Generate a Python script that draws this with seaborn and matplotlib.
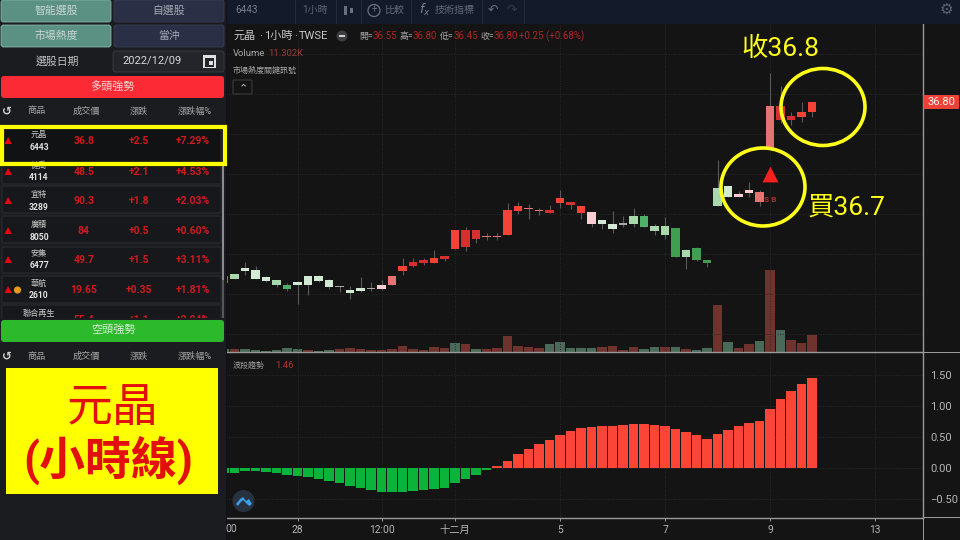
import matplotlib
matplotlib.use("Agg")
import matplotlib.pyplot as plt
from matplotlib.patches import Rectangle, FancyBboxPatch, Ellipse, Circle, Polygon
import numpy as np
import pandas as pd
import seaborn as sns

sns.set_theme(style="dark")
plt.rcParams['font.family'] = ['Roboto', 'Noto Sans CJK TC', 'DejaVu Sans']
plt.rcParams['axes.unicode_minus'] = False

# ---------- data ----------
body_top = [32.46,32.51,32.66,32.61,32.42,32.36,32.24,32.30,32.46,32.46,32.36,32.20,32.10,32.15,32.16,32.24,32.46,32.70,32.80,
            32.87,32.90,32.96,33.60,33.60,33.60,33.45,33.46,34.10,34.21,34.16,34.11,34.10,34.41,34.31,34.22,34.05,33.86,33.76,
            33.77,33.95,33.95,33.70,33.70,33.65,33.10,33.15,32.86,34.66,34.72,34.50,34.60,34.55,36.71,36.71,36.46,36.56,36.81]
body_bot = [32.28,32.38,32.58,32.38,32.34,32.23,32.13,32.23,32.23,32.34,32.18,32.18,32.03,32.08,32.13,32.13,32.23,32.58,32.72,
            32.78,32.78,32.89,33.13,33.18,33.39,33.43,33.43,33.49,34.08,34.13,34.09,34.03,34.29,34.24,34.03,33.75,33.75,33.63,
            33.74,33.75,33.68,33.58,33.49,32.94,32.94,32.85,32.78,34.21,34.44,34.44,34.54,34.30,35.63,36.35,36.35,36.44,36.56]
high = [32.46,32.51,32.80,32.71,32.46,32.36,32.28,32.33,32.46,32.48,32.38,32.20,32.21,32.42,32.30,32.36,32.46,32.90,32.90,
        32.90,33.11,32.96,33.60,33.69,33.60,33.54,33.53,34.28,34.30,34.26,34.16,34.23,34.61,34.31,34.22,34.05,33.86,34.09,
        33.97,34.15,34.00,33.75,33.92,33.65,33.13,33.19,32.86,35.36,34.72,34.59,34.82,34.61,37.53,37.21,36.57,36.80,36.81]
low = [32.28,32.38,32.48,32.38,32.32,32.19,32.08,31.76,31.98,32.32,32.13,32.07,31.89,32.06,32.09,32.11,32.23,32.48,32.68,
       32.73,32.78,32.83,33.13,33.09,33.29,33.36,33.36,33.49,34.00,33.89,33.99,34.03,34.15,34.13,33.89,33.69,33.63,33.53,
       33.67,33.69,33.67,33.48,33.39,32.93,32.64,32.83,32.68,34.21,34.44,34.44,34.44,34.21,35.63,36.28,36.23,36.30,36.44]
candle_shade = list("DBAAABCAAAAEAAEFGHIIHIHIIGGHHGGIHIHFAAEBCBBDBDDBAFFGGIIHH")
volume = [2.0,2.0,2.0,1.55,0.67,1.1,2.4,2.0,1.1,0.45,1.3,1.8,2.7,2.2,1.3,1.55,2.2,3.8,2.0,1.55,3.1,2.7,6.0,5.1,2.0,2.2,2.9,
          10.9,4.2,3.3,2.4,5.1,6.4,2.4,2.9,2.9,3.3,4.0,1.3,3.3,1.8,3.1,3.1,3.3,2.0,1.55,2.7,31.3,6.7,2.7,5.1,7.5,54.3,14.4,8.0,6.2,11.3]
volume_dir = list("gr" "gggggg" "r" "gg" "rrrrrrrrrrr" "g" "r" "g" "rrrrrr" "ggggg" "rrrr" "gg" "r" "g" "r" "gg" "r" "g" "rr" "g" "r" "g" "rrr")
osc = [-0.08,-0.07,-0.05,-0.05,-0.06,-0.07,-0.10,-0.12,-0.145,-0.17,-0.21,-0.24,-0.29,-0.32,-0.355,-0.375,-0.39,-0.375,-0.365,
       -0.35,-0.33,-0.31,-0.23,-0.17,-0.10,-0.03,0.03,0.12,0.23,0.31,0.39,0.45,0.53,0.60,0.645,0.665,0.68,0.69,0.705,0.715,
       0.715,0.70,0.69,0.635,0.585,0.53,0.47,0.56,0.62,0.68,0.73,0.76,0.95,1.11,1.24,1.355,1.46]
price_ticks = [31, 32, 33, 34, 35, 36, 37, 38]
osc_ticks = [-0.5, 0, 0.5, 1.0, 1.5]
time_pos = [7, 15, 22, 32, 42, 52, 62]
time_labels = ["28", "12:00", "十二月", "5", "7", "9", "13"]
buy_bar = 52
buy_price = 35.0

rows_name = ["元晶", "健喬", "宜特", "廣積", "安集", "華航", "聯合再生"]
rows_code = ["6443", "4114", "3289", "8050", "6477", "2610", ""]
rows_last = ["36.8", "48.5", "90.3", "84", "49.7", "19.65", "55.4"]
rows_chg = ["+2.5", "+2.1", "+1.8", "+0.5", "+1.5", "+0.35", "+1.1"]
rows_pct = ["+7.29%", "+4.53%", "+2.03%", "+0.60%", "+3.11%", "+1.81%", "+2.04%"]
table_head = ["商品", "成交價", "漲跌", "漲跌幅%"]

# ---------- layout ----------
W, H = 960, 540
BG = "#141414"
GRID = "#2a2a2a"
AXC = "#9a9a9a"
fig = plt.figure(figsize=(9.6, 5.4), dpi=100, facecolor=BG)

def axes_px(l, t, r, b, **kw):
    return fig.add_axes([l/W, 1-b/H, (r-l)/W, (b-t)/H], **kw)

L, R = 226, 923
MT, MB, OB = 24, 352, 517.7
bar_px, x0_px = 10.5, 224.0
xlim = ((L-x0_px)/bar_px, (R-x0_px)/bar_px)
idx = np.arange(len(osc))

ax = axes_px(L, MT, R, MB)
ax_o = axes_px(L, MB, R, OB)
for a in (ax, ax_o):
    a.set_facecolor(BG)
    for s in a.spines.values():
        s.set_visible(False)
    a.spines['right'].set_visible(True); a.spines['right'].set_color(AXC); a.spines['right'].set_linewidth(1)
    a.spines['bottom'].set_visible(True); a.spines['bottom'].set_color(AXC); a.spines['bottom'].set_linewidth(1)
    a.set_axisbelow(True)
    a.yaxis.tick_right()
    a.tick_params(axis='y', length=0, pad=5, labelsize=8, labelcolor="#b5b5b5", right=False)
    a.tick_params(axis='x', length=2.5, color=AXC, pad=2.5, labelsize=7.4, labelcolor="#b5b5b5", width=0.7, bottom=True)

# volume
ax_v = ax.twinx()
ax_v.set_zorder(1)
ax.set_zorder(2)
ax.patch.set_visible(False)
vdf = pd.DataFrame({"i": idx, "v": volume, "d": volume_dir})
sns.barplot(data=vdf, x="i", y="v", hue="d", hue_order=["r", "g"], palette={"r": "#6e332d", "g": "#4a6a59"},
            native_scale=True, dodge=False, width=0.88, saturation=1, legend=False, linewidth=0, edgecolor="none", ax=ax_v)
ax_v.set_xlim(*xlim)
ax_v.set_ylim(0, (MB-MT)*0.665)
ax_v.set_axis_off()

# candles
palette = {"A": "#d2ead4", "B": "#a8d8ab", "C": "#4fb069", "D": "#3f9e4f", "E": "#a8a8a8",
           "F": "#ffccd3", "G": "#e57373", "H": "#f44336", "I": "#d5302f"}
cols = [palette[c] for c in candle_shade]
ax.vlines(idx, low, high, color="#5a5a5a", lw=0.8, zorder=2)
ax.bar(idx, np.array(body_top)-np.array(body_bot), bottom=body_bot, width=0.8, color=cols, linewidth=0, edgecolor="none", zorder=3)
ax.scatter([buy_bar], [buy_price], marker="^", s=130, color="#f5211f", zorder=4, linewidths=0)
ax.text(buy_bar+0.05, 34.37, "S B", color="#a23535", fontsize=6, fontweight="bold", ha="center", va="center", zorder=4)
ax.set_xlim(*xlim)
ax.set_ylim(34-(MB-214.3)/40, 34+(214.3-MT)/40)
ax.set_yticks(price_ticks, [f"{v:.2f}" for v in price_ticks])
ax.set_xticks(time_pos, [""]*len(time_pos))
ax.tick_params(axis='x', length=0)
ax.grid(True, color=GRID, lw=0.7, ls=(0, (1, 1.6)))
ax.set_xlabel(""); ax.set_ylabel("")

# oscillator
odf = pd.DataFrame({"i": idx, "v": osc, "s": ["up" if v >= 0 else "dn" for v in osc]})
sns.barplot(data=odf, x="i", y="v", hue="s", hue_order=["up", "dn"], palette={"up": "#fb4637", "dn": "#0cb33b"},
            native_scale=True, dodge=False, width=0.93, saturation=1, legend=False, linewidth=0, edgecolor="none", ax=ax_o)
ax_o.set_xlim(*xlim)
ax_o.set_ylim((468.3-OB)/62, (468.3-MB)/62)
ax_o.set_yticks(osc_ticks, [f"{v:.2f}".replace("-", "−") for v in osc_ticks])
ax_o.set_xticks(time_pos, time_labels)
ax_o.grid(True, color=GRID, lw=0.7, ls=(0, (1, 1.6)))
ax_o.set_xlabel(""); ax_o.set_ylabel("")

# ---------- overlay in screen pixels ----------
ui = fig.add_axes([0, 0, 1, 1], zorder=10)
ui.set_xlim(0, W); ui.set_ylim(H, 0); ui.set_axis_off(); ui.patch.set_visible(False)

def T(x, y, s, size=8, color="#b4b4b4", ha="center", weight="normal", z=6, **kw):
    return ui.text(x, y, s, fontsize=size, color=color, ha=ha, va="center", fontweight=weight, zorder=z, **kw)
def box(x0, y0, x1, y1, color, rad=2.5, ec="none", lw=0, z=1):
    ui.add_patch(FancyBboxPatch((x0+rad, y0+rad), x1-x0-2*rad, y1-y0-2*rad,
                                boxstyle=f"round,pad={rad},rounding_size={rad}", fc=color, ec=ec, lw=lw, zorder=z))
def rect(x0, y0, x1, y1, color, z=1):
    ui.add_patch(Rectangle((x0, y0), x1-x0, y1-y0, fc=color, ec="none", zorder=z))

# axis lines running on to the picture edges
rect(922.5, 517, 923.5, 540, AXC, z=2)
rect(923, 351.5, 960, 352.5, AXC, z=2)
rect(923, 517.2, 960, 518.2, AXC, z=2)

# top toolbar
rect(226, 0, 960, 24, "#131a29")
for x in [295, 336, 361, 411, 482, 524]:
    rect(x-0.5, 0, x+0.5, 24, "#232a3a", z=2)
T(247, 10, "6443", 7.2, "#767c88")
T(315, 10, "1小時", 7.2, "#5f6570")
rect(344, 6, 347, 15, "#6a707c", z=3); rect(350, 8, 353, 13, "#6a707c", z=3)
ui.add_patch(Circle((374, 10.5), 6, fc="none", ec="#6a707c", lw=0.9, zorder=3))
T(374, 10, "+", 7, "#6a707c")
T(394, 10, "比較", 7.2, "#646a76")
T(425, 10, "$f_x$", 9, "#7a808c")
T(455, 10, "技術指標", 7.2, "#646a76")
T(493, 10, "↶", 9, "#6a707c")
T(512, 10, "↷", 9, "#353b48")
T(946, 10, "⚙", 11, "#5b6270")

# chart legend lines
for x, s in [(233, "元晶"), (259, "·"), (264, "1小時"), (294, "·"), (299, "TWSE")]:
    T(x, 36, s, 8, "#c6c6c6", ha="left")
ui.add_patch(Circle((342, 36), 5.5, fc="#3e3e42", ec="none", zorder=3)); rect(339, 35.3, 345, 36.7, "#d0d0d0", z=4)
RED_D = "#b32424"
for x, k, v in [(359, "開=", "36.55"), (399, "高=", "36.80"), (440, "低=", "36.45"), (480, "收=", "36.80")]:
    T(x, 36, k, 6.4, "#a8a8a8", ha="left")
    T(x+14, 36, v, 7, RED_D, ha="left")
T(519, 36, "+0.25 (+0.68%)", 7, RED_D, ha="left")
T(233, 53, "Volume", 6.8, "#a8a8a8", ha="left")
T(268, 53, "11.302K", 6.8, "#9a3c36", ha="left")
T(233, 70, "市場熱度關鍵訊號", 5.8, "#a8a8a8", ha="left")
box(233, 80, 252, 94, BG, rad=1, ec="#3a3a3a", lw=0.8, z=3)
T(243, 88, "⌃", 8, "#c8c8c8")
T(233, 365, "波段趨勢", 5.8, "#9a9a9a", ha="left")
T(275, 365, "1.46", 6.8, "#b5352e", ha="left")
T(231, 529, "00", 7.4, "#b5b5b5")

# last price tag
box(923.5, 95, 959, 109, "#ee4238", rad=1, z=3)
T(941.5, 102, "36.80", 8, "#f4f4f4")

# logo
ui.add_patch(Circle((243.5, 501), 11, fc="#28323f", ec="none", zorder=3))
ui.add_patch(Polygon([(236, 504), (240, 499), (243, 497), (246, 501), (249, 499), (252, 504), (249, 506), (246, 503),
                      (243, 500), (240, 503), (238, 506)], fc="#3ba0ea", ec="none", zorder=4))

# sidebar
rect(0, 0, 225.5, H, "#1b1c20")
rect(225.5, 0, 226.5, H, "#0e1118", z=2)
box(1, 0, 111, 22, "#5b9183", ec="#85b1a6", lw=0.6)
box(114, 0, 224, 22, "#2a2f45", ec="#3a3f55", lw=0.6)
box(1, 25, 111, 47, "#5b9183", ec="#85b1a6", lw=0.6)
box(114, 25, 224, 47, "#2a2f45", ec="#3a3f55", lw=0.6)
T(56, 10.5, "智能選股", 7.8, "#c9d6d2")
T(169, 10.5, "自選股", 7.8, "#a5a8b2")
T(56, 35.5, "市場熱度", 7.8, "#c9d6d2")
T(169, 35.5, "當沖", 7.8, "#a5a8b2")
T(57, 61, "選股日期", 7.8, "#c2c2c2")
box(113, 51, 224, 72, "#23252b", ec="#3b3d44", lw=0.6)
T(152, 61, "2022/12/09", 8, "#d8d8d8")
rect(203, 55, 216, 68, "#e0e0e0", z=3); rect(205, 58, 214, 66.5, "#23252b", z=4); rect(209, 61, 213, 65, "#e0e0e0", z=5)
box(1, 76, 224, 98, "#fb2a35", rad=3)
T(113, 86, "多頭強勢", 8, "#f2d7d7")
heads_x = [37, 86, 139, 195]
for hy in (111, 356):
    for x, h in zip(heads_x, table_head):
        T(x, hy, h, 6.6, "#a6a6a6")
    T(7, hy, "↺", 8.5, "#d0d0d0", weight="bold")

row_top = [127, 164, 186, 216, 247, 276, 305]
row_bot = [162, 184, 213, 243, 273, 303, 340]
row_mid = [141, 172, 201, 231, 260, 290, 320]
VAL = "#cf1b1f"
for i, (t, b, m) in enumerate(zip(row_top, row_bot, row_mid)):
    box(2, t, 221, b, "#111214" if i == 0 else "#17181b", rad=1, ec="#2c2d31", lw=0.7, z=2)
    if i < 6:
        ui.add_patch(Polygon([(8, m-4), (12, m+3), (4.5, m+3)], fc="#e3060c", ec="none", zorder=3))
    T(39, m-7 if i < 6 else 313, rows_name[i], 5.9, "#c8c8c8", z=3)
    if rows_code[i]:
        T(39, m+6, rows_code[i], 6.2, "#e0e0e0", weight="bold", z=3)
    T(84, m, rows_last[i], 7.5, VAL, weight="bold", z=3)
    T(139, m, rows_chg[i], 7.5, VAL, weight="bold", z=3)
    T(193, m, rows_pct[i], 7.5, VAL, weight="bold", z=3)
ui.add_patch(Circle((17.5, 290), 3.6, fc="#e59a1e", ec="none", zorder=3))
rect(0, 318, 225, 322, "#1b1c20", z=3.5)
rect(221.5, 165, 224, 318, "#8c8c8e", z=3.6)
rect(221.5, 280, 224, 318, "#55565a", z=3.6)
box(1, 320, 224, 342, "#2db92c", rad=3, z=4)
T(113, 330, "空頭強勢", 8, "#d7ecd7")
rect(0, 342, 225, 346, "#1b1c20", z=4)

# yellow annotation layer
rect(6, 368, 218, 494, "#ffff00", z=7)
T(113, 408, "元晶", 33, "#e30f0f", z=8)
T(108, 460, "(小時線)", 33, "#e30f0f", weight="bold", z=8)
ui.add_patch(Rectangle((1.5, 126.5), 223, 37.5, fc="none", ec="#ffff00", lw=3, zorder=8))
Y = "#ffff1a"
ui.add_patch(Ellipse((823, 107), 84, 77, fc="none", ec=Y, lw=2.6, zorder=8))
ui.add_patch(Ellipse((763, 187), 84, 78, fc="none", ec=Y, lw=2.6, zorder=8))
T(780, 49, "收36.8", 19, Y, z=8)
T(847, 208, "買36.7", 19, Y, z=8)

fig.savefig("out.png", dpi=100, facecolor=BG)
